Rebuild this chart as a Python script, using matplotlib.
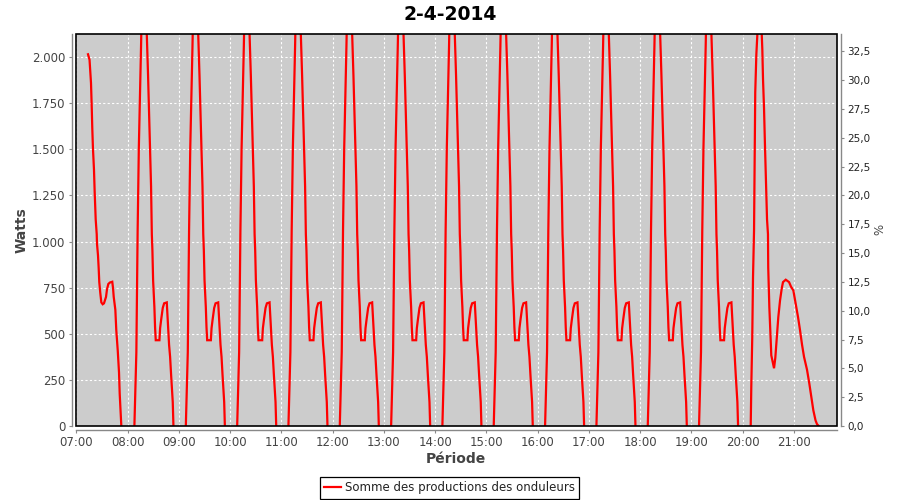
import numpy as np
import matplotlib
matplotlib.use("Agg")
import matplotlib.pyplot as plt
import matplotlib.dates as mdates
from matplotlib.patches import Rectangle
from matplotlib.ticker import FixedLocator, FuncFormatter
from matplotlib.lines import Line2D
from datetime import datetime, timedelta

# ---------------- data ----------------
day = datetime(2014, 4, 2)

# first block: minutes after 07:00 and Watts
first_min = [13.7, 15.5, 17.2, 18.0, 18.7, 19.5, 20.7, 21.5, 22.7, 23.9, 24.2, 25.4,
             26.2, 26.9, 28.1, 29.3, 30.9, 32.4, 34.8, 35.9, 37.5, 39.4, 42.1, 43.0,
             43.8, 45.7, 46.8, 48.5, 50.0, 50.8, 52.0, 52.7]
first_w = [2015, 1985, 1860, 1740, 1615, 1505, 1390, 1270, 1120, 1040, 990, 925,
           855, 780, 720, 670, 660, 665, 700, 740, 770, 778, 782, 748,
           700, 630, 520, 410, 290, 175, 70, 0]

# repeated hourly block: start times and profile (minutes after start, Watts)
block_starts = ["08:08.0", "09:08.2", "10:08.3", "11:08.3", "12:08.4", "13:08.5",
                "14:08.5", "15:08.6", "16:08.7", "17:08.8", "18:08.9", "19:08.9"]
block_min = [0.0, 1.2, 2.3, 3.2, 3.8, 5.2, 6.7, 7.8, 9.4, 11.5, 14.5, 16.0, 17.2,
             18.4, 19.5, 20.4, 21.1, 21.9, 23.4, 24.2, 25.0, 29.3, 30.1, 31.3,
             33.2, 34.8, 37.9, 38.9, 40.6, 41.8, 43.0, 44.9, 45.7]
block_w = [0, 210, 400, 817, 1060, 1510, 1815, 2060, 2450, 2800, 2125, 1900, 1690,
           1500, 1300, 1040, 950, 790, 645, 535, 465, 465, 530, 575,
           640, 665, 670, 585, 440, 375, 275, 130, 0]

# last block: minutes after 20:00 and Watts
last_min = [9.4, 10.1, 11.2, 12.1, 13.3, 14.7, 16.0, 17.2, 19.5, 22.3, 23.0, 23.8,
            25.0, 26.1, 27.3, 28.5, 29.6, 29.9, 31.2, 32.8, 33.5, 35.2, 36.7, 38.2,
            40.2, 41.7, 43.7, 45.7, 47.2, 50.4, 54.3, 56.6, 59.3, 62.4, 64.8, 67.1,
            69.5, 71.8, 75.3, 78.0, 80.4, 82.7, 85.3, 87.0, 89.0]
last_w = [0, 220, 480, 807, 1060, 1808, 2015, 2125, 2700, 2125, 2040, 1880,
          1720, 1520, 1330, 1120, 1040, 860, 645, 465, 383, 345, 313, 370,
          500, 590, 680, 745, 780, 793, 780, 755, 735, 655, 590, 520,
          440, 375, 305, 230, 155, 85, 30, 10, 0]

series_name = "Somme des productions des onduleurs"
title = "2-4-2014"
x_ticks = ["07:00", "08:00", "09:00", "10:00", "11:00", "12:00", "13:00", "14:00",
           "15:00", "16:00", "17:00", "18:00", "19:00", "20:00", "21:00"]
left_ticks = [0, 250, 500, 750, 1000, 1250, 1500, 1750, 2000]
right_ticks = [0, 2.5, 5, 7.5, 10, 12.5, 15, 17.5, 20, 22.5, 25, 27.5, 30, 32.5]

# ---------------- build series (NaN separates the blocks) ----------------
def at(hhmm):
    h, m = hhmm.split(":")
    return day + timedelta(hours=int(h), minutes=float(m))

times, watts = [], []
t0 = at("07:00")
for m, w in zip(first_min, first_w):
    times.append(t0 + timedelta(minutes=m)); watts.append(w)
for s in block_starts:
    st = at(s)
    times.append(st); watts.append(np.nan)
    for m, w in zip(block_min, block_w):
        times.append(st + timedelta(minutes=m)); watts.append(w)
t20 = at("20:00")
times.append(t20 + timedelta(minutes=last_min[0])); watts.append(np.nan)
for m, w in zip(last_min, last_w):
    times.append(t20 + timedelta(minutes=m)); watts.append(w)

xnum = mdates.date2num(times)
watts = np.array(watts, dtype=float)

# ---------------- figure ----------------
fig = plt.figure(figsize=(9, 5), dpi=100)
fig.patch.set_facecolor("white")
ax = fig.add_axes([75.7 / 900, 1 - 426 / 500, (837 - 75.7) / 900, (426 - 34) / 500])
ax.set_facecolor("#cccccc")

ax.plot(xnum, watts, color="#ff0000", lw=1.6, zorder=3, solid_joinstyle="miter")

ax.set_xlim(mdates.date2num(at("06:59.3")), mdates.date2num(at("21:50.4")))
ax.set_ylim(0, 2125)

ax.xaxis.set_major_locator(FixedLocator(mdates.date2num([at(t) for t in x_ticks])))
ax.xaxis.set_major_formatter(mdates.DateFormatter("%H:%M"))
ax.yaxis.set_major_locator(FixedLocator(left_ticks))
ax.yaxis.set_major_formatter(FuncFormatter(lambda v, p: f"{int(v):,}".replace(",", ".")))

ax.grid(True, color="white", linestyle=(0, (2, 2)), linewidth=0.8)
ax.set_axisbelow(True)

tick_color = "#444444"
axis_gray = "#888888"
for side in ["left", "bottom"]:
    ax.spines[side].set_position(("outward", 3))
    ax.spines[side].set_color(axis_gray)
    ax.spines[side].set_linewidth(1.0)
for side in ["top", "right"]:
    ax.spines[side].set_visible(False)
ax.tick_params(axis="both", direction="out", length=2.5, width=0.8, color=axis_gray,
               labelsize=8.5, labelcolor=tick_color, pad=2)

ax2 = ax.twinx()
ax2.set_ylim(0, 34.0)
ax2.yaxis.set_major_locator(FixedLocator(right_ticks))
ax2.yaxis.set_major_formatter(FuncFormatter(lambda v, p: f"{v:.1f}".replace(".", ",")))
for side in ["left", "bottom", "top"]:
    ax2.spines[side].set_visible(False)
ax2.spines["right"].set_position(("outward", 3))
ax2.spines["right"].set_color(axis_gray)
ax2.spines["right"].set_linewidth(1.0)
ax2.tick_params(axis="y", direction="out", length=2.5, width=0.8, color=axis_gray,
                labelsize=7.5, labelcolor="#222222", pad=2)

# plot border
ax.add_patch(Rectangle((0, 0), 1, 1, transform=ax.transAxes, fill=False,
                       edgecolor="black", linewidth=1.2, zorder=10, clip_on=False))

# texts
fig.text(0.5, 1 - 14 / 500, title, ha="center", va="center", fontsize=13.5,
         fontweight="bold", color="black")
fig.text(22 / 900, 1 - 230 / 500, "Watts", ha="center", va="center", rotation=90,
         fontsize=10, fontweight="bold", color="#444444")
fig.text(456 / 900, 1 - 459 / 500, "Période", ha="center", va="center",
         fontsize=10, fontweight="bold", color="#444444")
fig.text(880 / 900, 1 - 229 / 500, "%", ha="center", va="center", rotation=90,
         fontsize=8.5, color="#444444")

# legend
h = Line2D([], [], color="#ff0000", lw=1.6)
leg = fig.legend([h], [series_name], loc="center", bbox_to_anchor=(449.5 / 900, 1 - 488 / 500),
                 fancybox=False, edgecolor="black", framealpha=1, fontsize=8.5,
                 handlelength=1.4, handletextpad=0.3, borderpad=0.35, borderaxespad=0)
leg.get_frame().set_linewidth(0.9)
for t in leg.get_texts():
    t.set_color("#222222")

fig.savefig("out.png", dpi=100, facecolor="white")
